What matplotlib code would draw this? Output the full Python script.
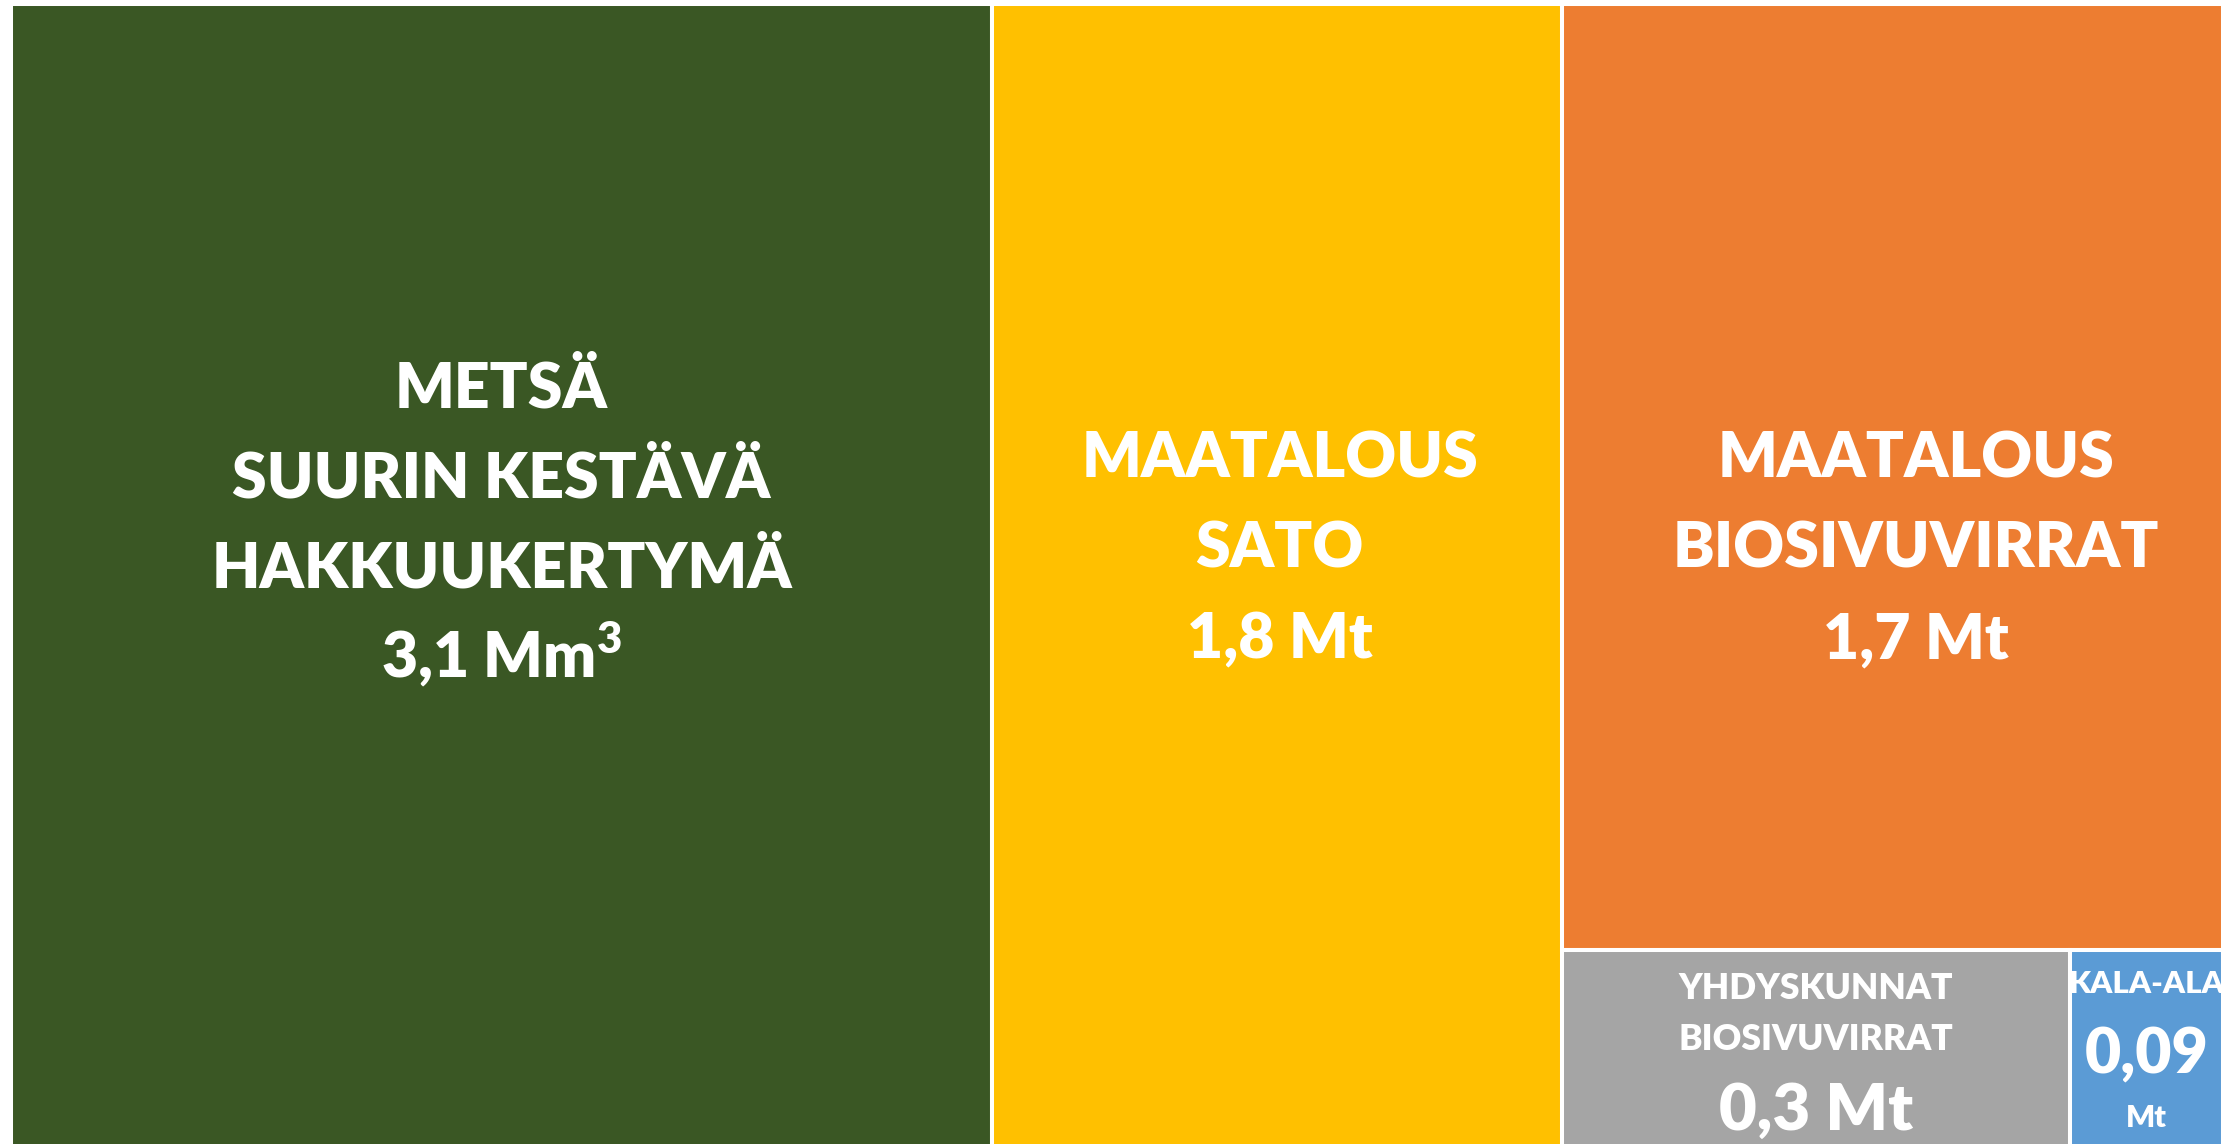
import matplotlib
matplotlib.use("Agg")
import matplotlib.pyplot as plt
from matplotlib.patches import Rectangle

# ---- data ----
categories = ["METSÄ", "MAATALOUS SATO", "MAATALOUS BIOSIVUVIRRAT",
              "YHDYSKUNNAT BIOSIVUVIRRAT", "KALA-ALA"]
values = [3.1, 1.8, 1.7, 0.3, 0.09]
label_lines = [
    ["METSÄ", "SUURIN KESTÄVÄ", "HAKKUUKERTYMÄ", r"3,1 Mm$^{\mathregular{3}}$"],
    ["MAATALOUS", "SATO", "1,8 Mt"],
    ["MAATALOUS", "BIOSIVUVIRRAT", "1,7 Mt"],
    ["YHDYSKUNNAT", "BIOSIVUVIRRAT", "0,3 Mt"],
    ["KALA-ALA", "0,09", "Mt"],
]
colors = ["#3A5724", "#FFC000", "#ED7D31", "#A5A5A5", "#5B9BD5"]

# ---- styling (layout only) ----
W, H = 2239, 1144
DPI = 100
FONT = ["Lato", "DejaVu Sans"]
WEIGHT = "heavy"
plt.rcParams["mathtext.fontset"] = "custom"
plt.rcParams["mathtext.rm"] = "Lato:heavy"
plt.rcParams["mathtext.bf"] = "Lato:heavy"
# per-line: (baseline offset from rect top in px, font size pt)
line_style = [
    [(404, 45), (494, 45), (584, 45), (673, 45)],
    [(474, 45), (564, 45), (654, 45)],
    [(474, 45), (564, 45), (654, 45)],
    [(49, 25.5), (100, 25.5), (180, 47)],
    [(43, 22.5), (123, 45), (177, 22)],
]
x_shift = [0, 3, 24, 0, 0]

fig = plt.figure(figsize=(W / DPI, H / DPI), dpi=DPI)
fig.patch.set_facecolor("white")
left_px, right_px, top_px, bot_px = 11, 2223, 4, 1167
ax = fig.add_axes([left_px / W, (H - bot_px) / H,
                   (right_px - left_px) / W, (bot_px - top_px) / H])
ax.set_axis_off()

total = sum(values)
ax.set_xlim(0, total)
ax.set_ylim(1, 0)  # y: 0 at top, 1 at bottom

# slice layout: columns [0], [1], [2 over (3 | 4)]
rects = []
x0 = 0.0
for i in (0, 1):
    rects.append((x0, 0.0, values[i], 1.0))
    x0 += values[i]
col_sum = values[2] + values[3] + values[4]
top_h = values[2] / col_sum
rects.append((x0, 0.0, col_sum, top_h))
strip_sum = values[3] + values[4]
rects.append((x0, top_h, col_sum * values[3] / strip_sum, 1 - top_h))
rects.append((x0 + col_sum * values[3] / strip_sum, top_h,
              col_sum * values[4] / strip_sum, 1 - top_h))

for (x, y, w, h), c in zip(rects, colors):
    ax.add_patch(Rectangle((x, y), w, h, facecolor=c, edgecolor="white",
                           linewidth=2.9))

for (x, y, w, h), lines, styles, dx in zip(rects, label_lines, line_style, x_shift):
    cx = x + w / 2
    for txt, (off, fs) in zip(lines, styles):
        ax.annotate(txt, xy=(cx, y), xytext=(dx, -off), textcoords="offset pixels",
                    ha="center", va="baseline", color="white", fontsize=fs,
                    fontweight=WEIGHT, family=FONT, annotation_clip=False)

fig.savefig("out.png", dpi=DPI, facecolor="white")
